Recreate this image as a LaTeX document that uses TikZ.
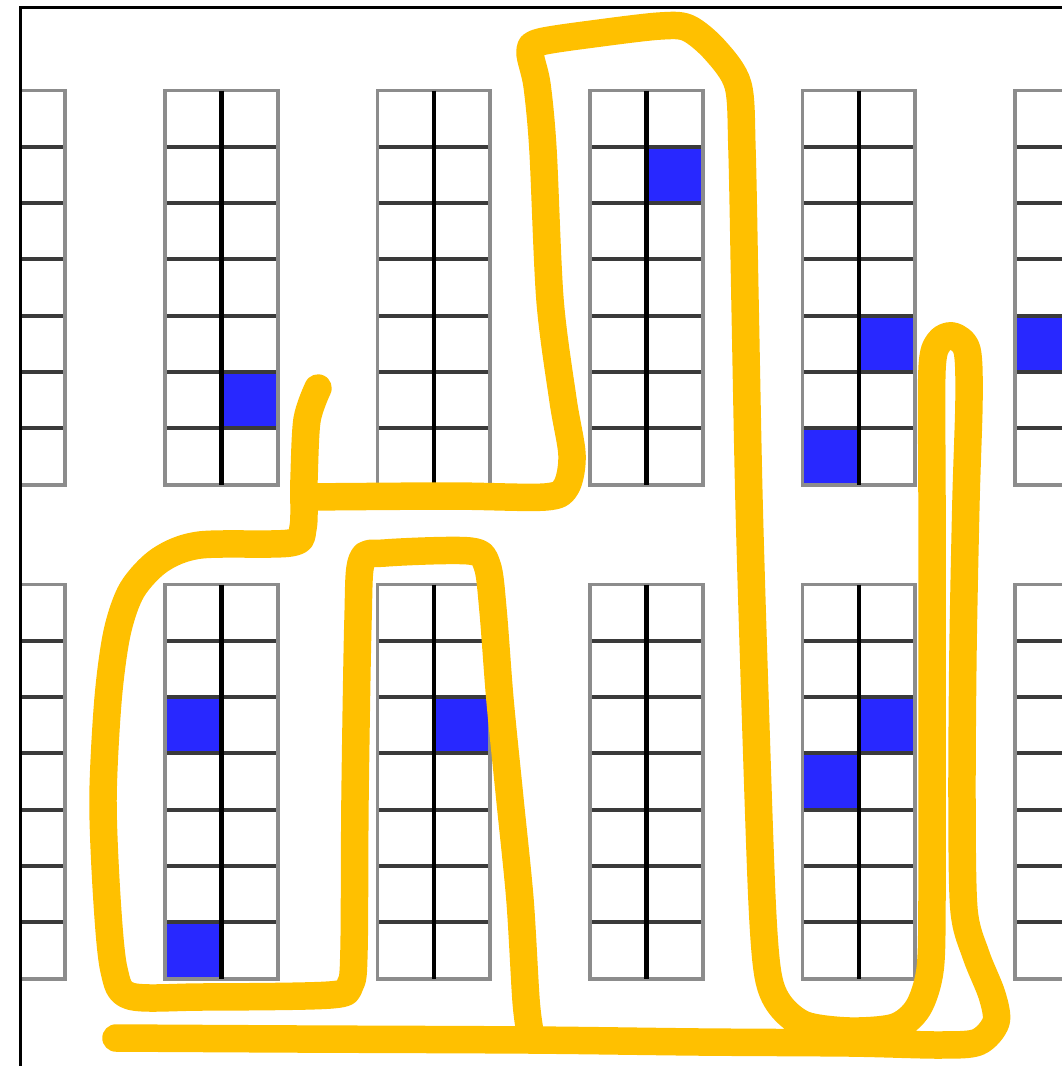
\documentclass[tikz,border=0pt]{standalone}
\usepackage{tikz}

\definecolor{azul}{HTML}{2828FF}
\definecolor{amarillo}{HTML}{FFC000}
\definecolor{gris}{HTML}{8C8C8C}
\definecolor{oscuro}{HTML}{3A3A3A}

\begin{document}
\begin{tikzpicture}[x=0.02cm,y=-0.02cm,
    borde/.style={gris,line width=2.2pt},
    fila/.style={oscuro,line width=2.2pt},
    centro/.style={black,line width=2.6pt},
    trazo/.style={amarillo,line width=0.55cm,line cap=round,line join=round}]
  \useasboundingbox (0,0) rectangle (1062,1066);

  \begin{scope}
    \clip (21,8) rectangle (1062,1066);
    % Celdas azules: bloque/banda/columna/fila
    \foreach \k/\b/\c/\r in {0/0/1/5, 2/0/1/1, 3/0/1/4, 3/0/0/6, 4/0/0/4,
                             0/1/0/2, 0/1/0/6, 1/1/1/2, 3/1/1/2, 3/1/0/3} {
      \fill[azul] ({165+212.5*\k+56.3*\c},{90.5+494*\b+56.3*\r}) rectangle +(56.3,56.3);
    }
    % Bloques de 2x7 celdas
    \foreach \k in {-1,...,4} {
      \foreach \b in {0,1} {
        \begin{scope}[shift={({165+212.5*\k},{90.5+494*\b})}]
          \foreach \r in {1,...,6} {
            \draw[fila] (0,{56.3*\r}) -- (112.6,{56.3*\r});
          }
          \draw[borde] (0,0) rectangle (112.6,394.1);
          \draw[centro] (56.3,0) -- (56.3,394.1);
        \end{scope}
      }
    }
  \end{scope}

  % Marco
  \draw[line width=1.2pt] (20.5,1066) -- (20.5,7.5) -- (1062,7.5);

  % Trazo amarillo a mano alzada
  \draw[trazo] plot[smooth] coordinates {(318,388) (307,420) (304,480) (303,528)
    (290,543) (200,545) (160,560) (132,590) (117,633) (108,700) (103,800)
    (107,900) (114,970) (130,996) (200,997) (330,995) (350,985) (354,950)
    (355,800) (358,620) (362,560) (385,553) (470,551) (487,565) (493,610)
    (500,700) (510,800) (520,900) (526,1000) (530,1032)};
  \draw[trazo] plot[smooth] coordinates {(116,1038) (300,1039) (530,1040)
    (700,1042) (850,1043) (940,1045) (978,1042) (996,1022) (992,995)
    (976,955) (964,910) (962,800) (963,650) (966,500) (969,400) (967,350)
    (953,336) (939,342) (932,370) (932,500) (932,700) (932,900) (930,970)
    (918,1008) (895,1027) (850,1031) (805,1025) (780,1005) (768,975)
    (762,900) (755,700) (749,500) (745,300) (742,150) (738,85) (715,50)
    (688,28) (660,26) (600,33) (540,42) (530,52) (537,85) (543,150)
    (550,300) (563,400) (572,455) (566,487) (545,497) (450,496) (305,497)};
\end{tikzpicture}
\end{document}
